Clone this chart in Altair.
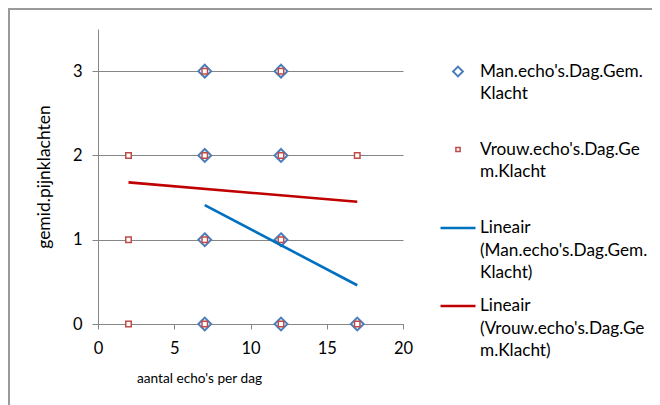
import altair as alt
import pandas as pd

# ---- data ----
man_x = [7, 12, 7, 12, 7, 12, 7, 12, 17]
man_y = [3, 3, 2, 2, 1, 1, 0, 0, 0]
vrouw_x = [7, 12, 2, 7, 12, 17, 2, 7, 12, 2, 7, 12, 17]
vrouw_y = [3, 3, 2, 2, 2, 2, 1, 1, 1, 0, 0, 0, 0]
man_trend_x = [7, 17]
man_trend_y = [1.41, 0.46]
vrouw_trend_x = [2, 17]
vrouw_trend_y = [1.68, 1.45]

series = [
    "Man.echo's.Dag.Gem.|Klacht",
    "Vrouw.echo's.Dag.Ge|m.Klacht",
    "Lineair|(Man.echo's.Dag.Gem.|Klacht)",
    "Lineair|(Vrouw.echo's.Dag.Ge|m.Klacht)",
]
colors = ["#4A7EBB", "#BE4B48", "#0070C0", "#C00000"]
shapes = [
    "M0,-0.28L0.28,0L0,0.28L-0.28,0Z",
    "M-0.12,-0.12L0.12,-0.12L0.12,0.12L-0.12,0.12Z",
    "M-1,0L1,0",
    "M-1,0L1,0",
]
widths = [2, 1.5, 2.6, 2.6]
x_ticks = [0, 5, 10, 15, 20]
y_ticks = [0, 1, 2, 3]

points = pd.DataFrame(
    {
        "x": man_x + vrouw_x,
        "y": man_y + vrouw_y,
        "series": [series[0]] * len(man_x) + [series[1]] * len(vrouw_x),
    }
)
trends = pd.DataFrame(
    {
        "x": man_trend_x + vrouw_trend_x,
        "y": man_trend_y + vrouw_trend_y,
        "series": [series[2]] * len(man_trend_x) + [series[3]] * len(vrouw_trend_x),
    }
)

FONT = "Lato"
GREY = "#868686"

x_enc = alt.X(
    "x:Q",
    scale=alt.Scale(domain=[0, 20], nice=False),
    axis=alt.Axis(
        values=x_ticks,
        format="d",
        grid=False,
        domainColor=GREY,
        tickColor=GREY,
        tickSize=5,
        labelFont=FONT,
        labelFontSize=16.5,
        labelColor="black",
        labelPadding=11.5,
        labelFlush=False,
        title="aantal echo's per dag",
        titleFont=FONT,
        titleFontSize=13.7,
        titleFontWeight="normal",
        titleColor="black",
        titleX=101,
        titleY=58,
        titleAlign="center",
        titleBaseline="alphabetic",
    ),
)
y_enc = alt.Y(
    "y:Q",
    scale=alt.Scale(domain=[0, 3.5], nice=False),
    axis=alt.Axis(
        values=y_ticks,
        format="d",
        grid=True,
        gridColor=GREY,
        gridWidth=1,
        domainColor=GREY,
        tickColor=GREY,
        tickSize=6,
        labelFont=FONT,
        labelFontSize=16.5,
        labelColor="black",
        labelPadding=10,
        title="gemid.pijnklachten",
        titleFont=FONT,
        titleFontSize=17.5,
        titleFontWeight="normal",
        titleColor="black",
        titleX=-49,
        titleY=147.5,
        titleAlign="center",
        titleBaseline="alphabetic",
        titleAngle=270,
    ),
)

color_scale = alt.Scale(domain=series, range=colors)
shape_scale = alt.Scale(domain=series, range=shapes)
width_scale = alt.Scale(type="ordinal", domain=series, range=widths)
legend = alt.Legend(title=None, labelExpr="split(datum.label, '|')")

pts = alt.Chart(points).mark_point(filled=True, fill="white", size=2100, opacity=1).encode(
    x=x_enc,
    y=y_enc,
    stroke=alt.Stroke("series:N", scale=color_scale, legend=legend),
    shape=alt.Shape("series:N", scale=shape_scale, legend=legend),
    strokeWidth=alt.StrokeWidth("series:N", scale=width_scale, legend=legend),
)

lines = alt.Chart(trends).mark_line().encode(
    x=alt.X("x:Q"),
    y=alt.Y("y:Q"),
    stroke=alt.Stroke("series:N", scale=color_scale, legend=legend),
    strokeWidth=alt.StrokeWidth("series:N", scale=width_scale, legend=legend),
)

frame_top = alt.Chart(pd.DataFrame({"a": [0]})).mark_rule(color="#9a9a9a", strokeWidth=2).encode(
    x=alt.value(-90), x2=alt.value(554), y=alt.value(-20)
)
frame_left = alt.Chart(pd.DataFrame({"a": [0]})).mark_rule(color="#9a9a9a", strokeWidth=2).encode(
    x=alt.value(-89), y=alt.value(-20), y2=alt.value(380)
)

chart = (
    alt.layer(frame_top, frame_left, pts, lines)
    .properties(
        width=305,
        height=295,
        padding={"left": 90, "top": 21, "right": 249, "bottom": 81},
        autosize=alt.AutoSizeParams(type="none"),
        background="white",
    )
    .configure(style={"guide-label": {"lineHeight": 22.5}})
    .configure_view(strokeWidth=0)
    .configure_legend(
        orient="none",
        legendX=341,
        legendY=24,
        symbolSize=1225,
        symbolFillColor="white",
        labelFont=FONT,
        labelFontSize=17.2,
        labelColor="black",
        labelBaseline="middle",
        labelOffset=3,
        labelLimit=400,
        padding=0,
        rowPadding=5,
        gridAlign="all",
    )
)

chart.save("out.html", embed_options={"renderer": "svg", "actions": False})
